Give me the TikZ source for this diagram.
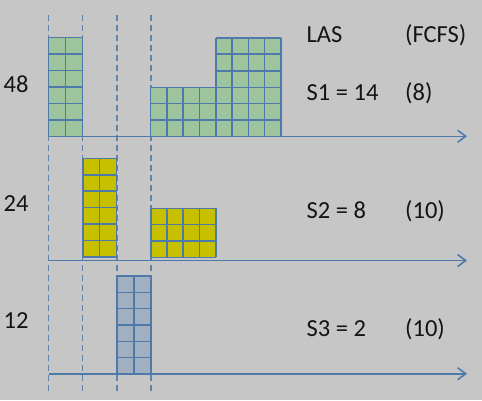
\documentclass[tikz,border=0pt]{standalone}
\usepackage{fontspec}
\setmainfont{Carlito}
\usetikzlibrary{arrows.meta}
\definecolor{bgc}{HTML}{C6C6C6}
\definecolor{linec}{HTML}{4E79A8}
\definecolor{greenc}{HTML}{9EC49E}
\definecolor{yellowc}{HTML}{C6C000}
\definecolor{bluec}{HTML}{A0B0C0}
\definecolor{textc}{HTML}{141414}
\tikzset{
  gridline/.style={draw=linec, line width=1.6pt},
  guide/.style={draw=linec, line width=1.6pt, dash pattern=on 6pt off 4pt, opacity=0.85},
  axis/.style={draw=linec, line width=1.6pt, -{Straight Barb[length=8pt,width=12pt,line width=1.6pt]}},
  lbl/.style={anchor=base west, inner sep=0pt, text=textc, font=\fontsize{24.5}{28}\selectfont},
}
\newcommand\cellblock[7]{%
  \fill[#7] (#1,#2) rectangle (#3,#4);
  \foreach \k in {0,...,#5}{\draw[gridline] ({#1+(#3-#1)*\k/#5},#2) -- ({#1+(#3-#1)*\k/#5},#4);}
  \foreach \k in {0,...,#6}{\draw[gridline] (#1,{#2+(#4-#2)*\k/#6}) -- (#3,{#2+(#4-#2)*\k/#6});}
}
\begin{document}
\begin{tikzpicture}[x=1pt,y=-1pt]
\fill[bgc] (0,0) rectangle (482,400);
\useasboundingbox (0,0) rectangle (482,400);
% guides
\foreach \gx in {48.5,82.5,116.8,150.7}{\draw[guide] (\gx,15) -- (\gx,392);}
% blocks
\cellblock{48.5}{37.5}{82.5}{136.3}{2}{6}{greenc}
\cellblock{150.5}{87.3}{281}{136.3}{8}{3}{greenc}
\cellblock{215.75}{37.7}{281}{87.3}{4}{3}{greenc}
\cellblock{82.7}{158.3}{116.5}{256.8}{2}{6}{yellowc}
\cellblock{150.7}{208.3}{215.7}{257.3}{4}{3}{yellowc}
\cellblock{117}{276}{150.7}{374}{2}{6}{bluec}
% axes
\coordinate (a1s) at (48.5,136.3); \coordinate (a1e) at (467,136.3);
\coordinate (a2s) at (48.5,260.5); \coordinate (a2e) at (467,260.5);
\coordinate (a3s) at (48.5,373.7); \coordinate (a3e) at (467,373.7);
\draw[axis] (a1s) -- (a1e);
\draw[axis] (a2s) -- (a2e);
\draw[axis] (a3s) -- (a3e);
% labels
\node[lbl] (las) at (306.5,42.3) {LAS};
\node[lbl] (fcfs) at (405,42.3) {(FCFS)};
\node[lbl] (s1) at (306.5,100.7) {S1 = 14};
\node[lbl] (f1) at (405,100.7) {(8)};
\node[lbl] (s2) at (306.5,218.3) {S2 = 8};
\node[lbl] (f2) at (405,218.3) {(10)};
\node[lbl] (s3) at (306.5,336.7) {S3 = 2};
\node[lbl] (f3) at (405,336.7) {(10)};
\node[lbl] (w1) at (3.5,92.7) {48};
\node[lbl] (w2) at (3.5,211.7) {24};
\node[lbl] (w3) at (3.5,328.3) {12};
\end{tikzpicture}
\end{document}
